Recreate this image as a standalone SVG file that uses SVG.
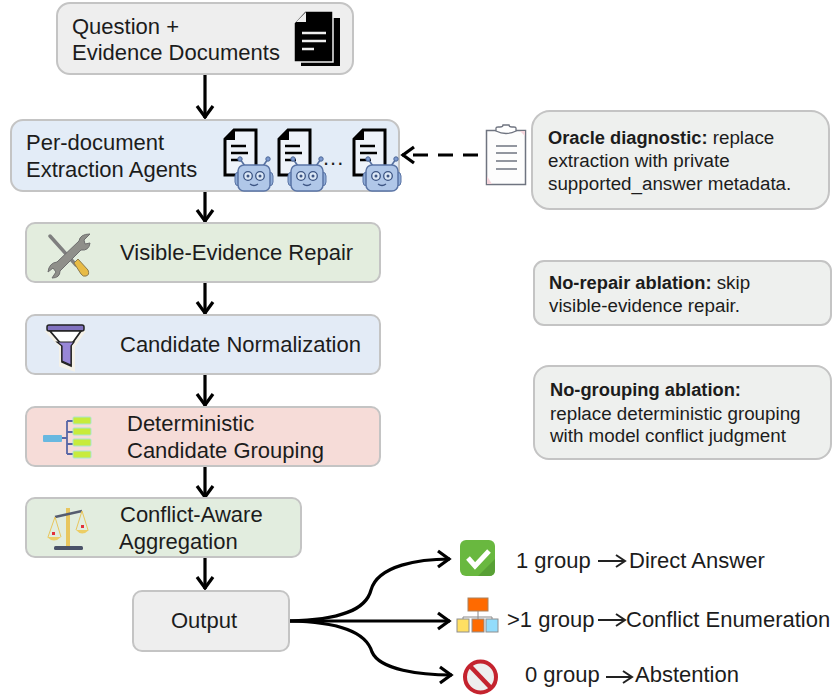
<svg xmlns="http://www.w3.org/2000/svg" width="834" height="696" viewBox="0 0 834 696">
<style>
text{font-family:"Liberation Sans",Arial,sans-serif;font-size:22px;fill:#1c1c1c}
.n{stroke:#c4c4c4;stroke-width:2}
.s{font-size:18.800px}
.b{font-weight:700;font-size:18.300px}
.c{fill:none;stroke:#000;stroke-width:3.200}
.h{fill:none;stroke:#222;stroke-width:2}
</style>
<defs>
<marker id="a" markerUnits="userSpaceOnUse" markerWidth="20" markerHeight="20" refX="16" refY="10" orient="auto"><path d="M4 2L15 10L4 18" fill="none" stroke="#000" stroke-width="3.200"/></marker>
<marker id="m" markerUnits="userSpaceOnUse" markerWidth="20" markerHeight="20" refX="15" refY="10" orient="auto"><path d="M6 4L15 10L6 16" fill="none" stroke="#222" stroke-width="2"/></marker>
<g id="doc"><path d="M10 1H32V46H1V10Z" fill="#eef3fa" stroke="#000" stroke-width="3"/><path d="M10 1V10H1" fill="#000" stroke="#000" stroke-width="2"/><path d="M7 17H22M7 24H24M7 31H18" stroke="#000" stroke-width="2.400"/></g>
<g id="bot"><path d="M8 8L3 1M26 8L31 1" stroke="#56709f" stroke-width="1.600"/><circle cx="3" cy="1" r="2.200" fill="#7d9ad0" stroke="#4c6797"/><circle cx="31" cy="1" r="2.200" fill="#7d9ad0" stroke="#4c6797"/><rect x="-2" y="14" width="38" height="14" rx="4" fill="#8facd8" stroke="#5a74a5"/><rect x="1" y="7" width="32" height="26" rx="6" fill="#b0c7e8" stroke="#5a74a5" stroke-width="1.500"/><circle cx="11" cy="18" r="4.300" fill="#dce8f6" stroke="#3d5583" stroke-width="1.300"/><circle cx="23" cy="18" r="4.300" fill="#dce8f6" stroke="#3d5583" stroke-width="1.300"/><circle cx="11" cy="18" r="1.500" fill="#3d5583"/><circle cx="23" cy="18" r="1.500" fill="#3d5583"/><path d="M13 26Q17 29 21 26" fill="none" stroke="#3d5583" stroke-width="1.300"/></g>
</defs>

<g id="connectors">
<path class="c" d="M205 75V118" marker-end="url(#a)"/>
<path class="c" d="M205 191V222" marker-end="url(#a)"/>
<path class="c" d="M205 283V314" marker-end="url(#a)"/>
<path class="c" d="M205 375V406" marker-end="url(#a)"/>
<path class="c" d="M205 467V498" marker-end="url(#a)"/>
<path class="c" d="M205 558V589" marker-end="url(#a)"/>
<path class="c" d="M290 621C340 620 366 610 371 590C378 565 420 559 450 559" marker-end="url(#a)"/>
<path class="c" d="M290 621H450" marker-end="url(#a)"/>
<path class="c" d="M290 621C340 622 366 632 372 652C380 670 420 675 452 675" marker-end="url(#a)"/>
<path class="c" d="M478 155H402" stroke-dasharray="15 10" marker-end="url(#a)"/>
</g>

<g id="input"><rect class="n" x="57" y="3" width="296" height="71" rx="13" fill="#eeeeee"/>
<text x="72" y="34">Question +</text><text x="72" y="60">Evidence Documents</text>
<path d="M301 18H340V66H301Z" fill="#000"/><path d="M305 11H333V62H294V23Z" fill="#000" stroke="#eee" stroke-width="1.500"/>
<path d="M296 22H306V12Z" fill="#eee"/>
<path d="M302 33H326M302 41H326M302 49H314" stroke="#eee" stroke-width="2.600"/></g>

<g id="extraction"><rect class="n" x="11" y="120" width="388" height="71" rx="12" fill="#e3ecf7"/>
<text x="26" y="150">Per-document</text><text x="26" y="177">Extraction Agents</text>
<use href="#doc" x="224" y="129"/><use href="#doc" x="278" y="129"/><use href="#doc" x="353" y="129"/>
<use href="#bot" x="237" y="158"/><use href="#bot" x="290" y="158"/><use href="#bot" x="365" y="158"/>
<text x="323" y="165" letter-spacing="1">...</text></g>

<g id="clipboard"><rect x="486.500" y="130.500" width="39" height="54" fill="#fdfdfd" stroke="#6f7480" stroke-width="1.500"/>
<path d="M496 131V128Q496 127 498 127H500Q503 127 503 125Q506 125 509 125Q509 127 512 127H514Q516 127 516 128V131Q506 136 496 131Z" fill="#fff" stroke="#6f7480" stroke-width="1.300"/>
<path d="M520 131L525 136V131ZM487 176L492 184H487Z" fill="#f5d5dc"/>
<path d="M496 146H517M496 153H517M496 161H517M496 169H517" stroke="#6f7480" stroke-width="1.300"/></g>

<g id="oracle"><rect class="n" x="532" y="111" width="297" height="98" rx="18" fill="#eef0ee"/>
<text class="s" x="548" y="144"><tspan class="b">Oracle diagnostic:</tspan> replace</text>
<text class="s" x="548" y="167">extraction with private</text>
<text class="s" x="548" y="190">supported_answer metadata.</text></g>

<g id="repair"><rect class="n" x="26" y="223" width="354" height="59" rx="9" fill="#e3edde"/>
<path d="M50 236L76 265" fill="none" stroke="#7f7f7f" stroke-width="3.500" stroke-linecap="round"/>
<path d="M74 263L78 259L88 270Q90 275 86 276Q83 277 81 274Z" fill="#e8bb45" stroke="#8a7a50"/>
<path d="M79 241Q80 234 90 234L84 240L85 244L90 243Q89 251 81 250L60 271Q60 278 52 278L56 272L53 268L48 272Q49 263 57 262Z" fill="#8f8f8a" stroke="#6e6e6e"/>
<text x="120" y="260">Visible-Evidence Repair</text></g>

<g id="normalize"><rect class="n" x="26" y="315" width="354" height="59" rx="9" fill="#e3ebf6"/>
<path d="M49 333H82L73 346V369L61 365V346Z" fill="#fff" stroke="#f4f1e8" stroke-width="4"/>
<rect x="47" y="325" width="37" height="6" rx="2" fill="#8172c0" stroke="#222" stroke-width="1.500"/>
<path d="M50 331H81L71 345V366L62 362V345Z" fill="#fff" stroke="#222" stroke-width="1.700"/><path d="M57 342H74L71 346V365L62 361V346Z" fill="#9887d8" stroke="#222" stroke-width="1.200"/>
<text x="120" y="352">Candidate Normalization</text></g>

<g id="grouping"><rect class="n" x="26" y="407" width="354" height="59" rx="9" fill="#f6dcd8"/>
<rect x="43" y="435" width="19" height="7" rx="1" fill="#68b8e0"/>
<path d="M62 438H67M67 421V454M67 421H73M67 432H73M67 444H73M67 454H73" fill="none" stroke="#5866a6" stroke-width="1.800"/>
<g fill="#c8eb3c" stroke="#a8e6cf"><rect x="73" y="417" width="18" height="7" rx="1"/><rect x="73" y="428" width="18" height="7" rx="1"/><rect x="73" y="439" width="18" height="7" rx="1"/><rect x="73" y="451" width="18" height="7" rx="1"/></g>
<text x="127" y="431">Deterministic</text><text x="127" y="458">Candidate Grouping</text></g>

<g id="aggregation"><rect class="n" x="26" y="498" width="275" height="59" rx="9" fill="#e2eddf"/>
<rect x="66" y="508" width="4" height="38" fill="#e8c65e"/><path d="M55 517L82 511" stroke="#555c70" stroke-width="2.400"/>
<path d="M55 517L48 537M55 517L61 537M82 511L76 530M82 511L88 530" stroke="#e8c65e" fill="none"/>
<path d="M47 537H61Q54 544 47 537ZM76 530H89Q82 537 76 530Z" fill="#ecce65"/>
<rect x="52" y="532" width="3" height="3" fill="#e2313b"/><rect x="81" y="525" width="3" height="3" fill="#e2313b"/>
<rect x="54" y="546" width="29" height="4" rx="1.500" fill="#4a5268"/>
<text x="120" y="522">Conflict-Aware</text><text x="119" y="549">Aggregation</text></g>

<g id="output"><rect class="n" x="133" y="591" width="156" height="60" rx="9" fill="#eeeeee"/>
<text x="171" y="628">Output</text></g>

<g id="no-repair"><rect class="n" x="534" y="261" width="297" height="64" rx="10" fill="#eef0ee"/>
<text class="s" x="549" y="289"><tspan class="b">No-repair ablation:</tspan> skip</text>
<text class="s" x="549" y="312">visible-evidence repair.</text></g>

<g id="no-grouping"><rect class="n" x="534" y="366" width="297" height="93" rx="15" fill="#eef0ee"/>
<text class="s b" x="550" y="396">No-grouping ablation:</text>
<text class="s" x="550" y="420">replace deterministic grouping</text>
<text class="s" x="550" y="442">with model conflict judgment</text></g>

<g id="direct"><rect x="460" y="540" width="35" height="36" rx="6" fill="#69b83f"/><path d="M478 576L495 559V570Q495 576 489 576Z" fill="#58a035"/>
<path d="M468 558L475 566L489 551" fill="none" stroke="#fff" stroke-width="5"/>
<text x="516" y="568">1 group</text><path class="h" d="M598 561H625" marker-end="url(#m)"/><text x="629" y="568">Direct Answer</text></g>

<g id="conflict"><path d="M478 610V617M463 619V617H492V619M478 617V619" fill="none" stroke="#888"/>
<rect x="468" y="598" width="20" height="13" fill="#ff6a00" stroke="#a9825f"/>
<rect x="457" y="619" width="12" height="13" fill="#ffdf63" stroke="#8e8e8e"/><rect x="472" y="619" width="12" height="13" fill="#ff6a00" stroke="#8e8e8e"/><rect x="486" y="619" width="12" height="13" fill="#93dcfb" stroke="#8e8e8e"/>
<text x="507" y="627">&gt;1 group</text><path class="h" d="M598 620H625" marker-end="url(#m)"/><text x="626" y="627">Conflict Enumeration</text></g>

<g id="abstain"><circle cx="480.500" cy="677" r="15.500" fill="#eeeeee" stroke="#c4232e" stroke-width="4"/><path d="M470 666L491 688" stroke="#c4232e" stroke-width="4.500"/>
<text x="525" y="682">0 group</text><path class="h" d="M606 677H632" marker-end="url(#m)"/><text x="635" y="682">Abstention</text></g>
</svg>
